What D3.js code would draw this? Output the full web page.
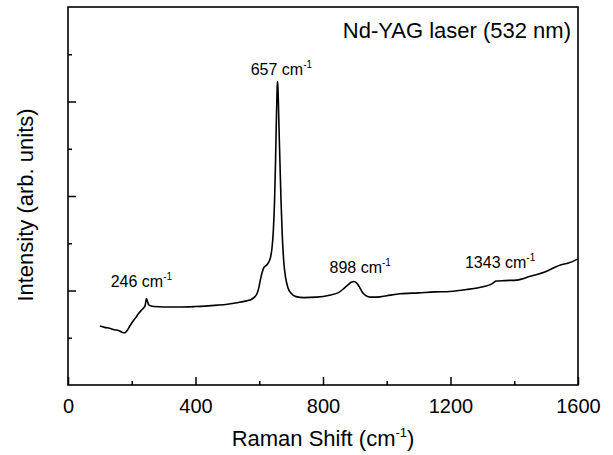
<!DOCTYPE html>
<html>
<head>
<meta charset="utf-8">
<script src="https://cdn.jsdelivr.net/npm/d3@7"></script>
<style>
  html, body { margin: 0; padding: 0; background: #fff; }
  svg { display: block; font-family: "Liberation Sans", Arial, sans-serif; }
</style>
</head>
<body>
<svg id="chart" width="613" height="455"></svg>
<script>
// Raman spectrum, Nd-YAG excitation (532 nm)
const ramanShift = [
  100, 115, 130, 145, 160, 172, 178, 185, 195, 205, 214, 222, 230, 237, 242, 246, 249, 253, 258, 270,
  300, 350, 400, 430, 470, 500, 530, 560, 575, 585, 592, 598, 604, 609, 614, 620, 626, 631, 636, 640,
  644, 648, 651, 654, 656, 657, 658, 660, 662, 665, 668, 672, 677, 683, 690, 700, 715, 740, 780, 820,
  850, 865, 880, 890, 898, 905, 912, 922, 932, 947, 970, 1000, 1042, 1100, 1150, 1198, 1250, 1302, 1330, 1343,
  1370, 1408, 1450, 1500, 1533, 1545, 1570, 1600
];
const intensity = [
  0.625, 0.61, 0.60, 0.585, 0.575, 0.555, 0.553, 0.575, 0.63, 0.68, 0.72, 0.76, 0.79, 0.815, 0.84, 0.915, 0.89, 0.85, 0.84, 0.83,
  0.825, 0.825, 0.83, 0.835, 0.845, 0.855, 0.87, 0.89, 0.905, 0.93, 0.96, 1.02, 1.12, 1.19, 1.24, 1.26, 1.28, 1.31, 1.36, 1.45,
  1.62, 1.95, 2.35, 2.85, 3.12, 3.21, 3.19, 3.0, 2.72, 2.35, 1.98, 1.6, 1.3, 1.13, 1.03, 0.97, 0.935, 0.925, 0.93, 0.95,
  0.98, 1.02, 1.065, 1.09, 1.095, 1.08, 1.05, 0.99, 0.95, 0.93, 0.93, 0.945, 0.965, 0.975, 0.985, 0.99, 1.01, 1.04, 1.07, 1.10,
  1.105, 1.11, 1.15, 1.20, 1.255, 1.27, 1.29, 1.335
];

// Peak annotations (cm-1)
const peakPositions = [246, 657, 898, 1343];
const peakLabelText = ["246 cm", "657 cm", "898 cm", "1343 cm"];

// Axis ticks
const xMajorTicks = [0, 400, 800, 1200, 1600];
const xMinorTicks = [200, 600, 1000, 1400];
const yMajorTicks = [1, 2, 3];
const yMinorTicks = [0.5, 1.5, 2.5, 3.5];

const titleText = "Nd-YAG laser (532 nm)";

const svg = d3.select("#chart");
const plotLeft = 68, plotRight = 578, plotTop = 7, plotBottom = 385;

const x = d3.scaleLinear().domain([0, 1600]).range([plotLeft, plotRight]);
const y = d3.scaleLinear().domain([0, 4]).range([plotBottom, plotTop]);

const data = ramanShift.map((r, i) => ({ r, v: intensity[i] }));

// spectrum
svg.append("path")
  .datum(data)
  .attr("fill", "none")
  .attr("stroke", "#000")
  .attr("stroke-width", 1.6)
  .attr("stroke-linejoin", "round")
  .attr("d", d3.line().x(d => x(d.r)).y(d => y(d.v)).curve(d3.curveMonotoneX));

// bottom axis: major ticks with labels, minor ticks without
const gx = svg.append("g").attr("transform", `translate(0,${plotBottom})`);
gx.call(d3.axisBottom(x).tickValues(xMajorTicks).tickSize(-8).tickPadding(14).tickFormat(d3.format("d")));
const gxm = svg.append("g").attr("transform", `translate(0,${plotBottom})`);
gxm.call(d3.axisBottom(x).tickValues(xMinorTicks).tickSize(-4).tickFormat(""));

// left axis: inward ticks, no labels
const gy = svg.append("g").attr("transform", `translate(${plotLeft},0)`);
gy.call(d3.axisLeft(y).tickValues(yMajorTicks).tickSize(-8).tickFormat(""));
const gym = svg.append("g").attr("transform", `translate(${plotLeft},0)`);
gym.call(d3.axisLeft(y).tickValues(yMinorTicks).tickSize(-4).tickFormat(""));

[gx, gxm, gy, gym].forEach(g => {
  g.select(".domain").remove();
  g.selectAll(".tick line").attr("stroke", "#000").attr("stroke-width", 1.5);
  g.selectAll(".tick text").attr("fill", "#000").style("font-size", "20px")
    .style("font-family", '"Liberation Sans", Arial, sans-serif');
});

// frame
svg.append("rect")
  .attr("x", plotLeft).attr("y", plotTop)
  .attr("width", plotRight - plotLeft).attr("height", plotBottom - plotTop)
  .attr("fill", "none").attr("stroke", "#000").attr("stroke-width", 1.6);

// x axis title
const xt = svg.append("text")
  .attr("x", (plotLeft + plotRight) / 2).attr("y", 446)
  .attr("text-anchor", "middle").style("font-size", "22px");
xt.append("tspan").text("Raman Shift (cm");
xt.append("tspan").attr("dy", -9).style("font-size", "13px").text("-1");
xt.append("tspan").attr("dy", 9).text(")");

// y axis title
svg.append("text")
  .attr("transform", `translate(33,${(plotTop + plotBottom) / 2 + 9}) rotate(-90)`)
  .attr("text-anchor", "middle").style("font-size", "22px")
  .text("Intensity (arb. units)");

// laser label
svg.append("text")
  .attr("x", 571).attr("y", 38)
  .attr("text-anchor", "end").style("font-size", "22px")
  .text(titleText);

// peak labels: offsets relative to the peak position on the curve
const labelShift = { 246: [-5, 11.5], 657: [4, 7], 898: [6, 8.5], 1343: [4, 13] };
const valueAt = p => {
  const i = d3.bisectLeft(ramanShift, p);
  if (ramanShift[i] === p || i === 0) return intensity[i];
  const t = (p - ramanShift[i - 1]) / (ramanShift[i] - ramanShift[i - 1]);
  return intensity[i - 1] + t * (intensity[i] - intensity[i - 1]);
};
peakPositions.forEach((p, i) => {
  const [dx, dy] = labelShift[p];
  const t = svg.append("text")
    .attr("x", x(p) + dx).attr("y", y(valueAt(p)) - dy)
    .attr("text-anchor", "middle").style("font-size", "16px");
  t.append("tspan").text(peakLabelText[i]);
  t.append("tspan").attr("dy", -7).style("font-size", "10px").text("-1");
});
</script>
</body>
</html>
